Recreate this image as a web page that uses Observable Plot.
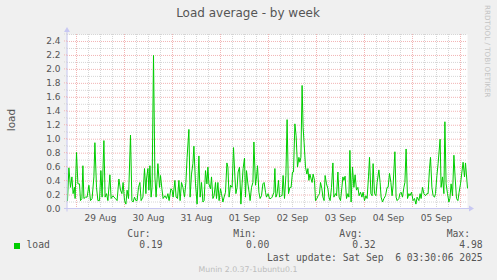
<!DOCTYPE html>
<html><head><meta charset="utf-8">
<script src="https://cdn.jsdelivr.net/npm/d3@7"></script>
<script src="https://cdn.jsdelivr.net/npm/@observablehq/plot@0.6"></script>
<style>html,body{margin:0;padding:0;background:#f0f0f0;} #chart{width:497px;height:280px;position:relative;}</style>
</head><body><div id="chart"></div>
<script>
const titleText = "Load average - by week";
const yLabel = "load";
const sideText = "RRDTOOL / TOBI OETIKER";
const footerText = "Munin 2.0.37-1ubuntu0.1";
const lastUpdate = "Last update: Sat Sep  6 03:30:06 2025";
const seriesName = "load";
const statLabels = ["Cur:", "Min:", "Avg:", "Max:"];
const statValues = ["0.19", "0.00", "0.32", "4.98"];

const startTime = Date.UTC(2025, 7, 28, 19, 30);
const endTime = Date.UTC(2025, 8, 6, 3, 30);

// hours after start, load values
const hours = [0,0.7,1.5,2.2,2.8,3.5,3.8,4.5,5.2,6,6.5,7.2,7.7,8.2,9,9.8,10.7,11.5,12.3,13.2,13.7,14.5,15.2,16,16.7,17.3,18.2,18.8,19.5,20.2,21.2,21.8,22.7,23.2,24,24.8,25.7,26.5,27.2,27.8,28.5,29.2,29.8,30.5,31.5,32.2,32.8,33.5,34.2,34.8,35.5,36.2,36.8,37.7,38.5,39.2,39.5,40.2,40.7,41.2,41.8,42.3,43,43.7,44.3,45.2,46,46.5,47.2,47.8,48.7,49.5,50.2,50.8,51.7,52.3,52.8,53.7,54.3,55,55.7,56.3,57,57.7,58.5,59.2,59.8,60.7,61.3,62,62.7,63.2,
64,64.8,65.7,66.3,67,67.7,68.3,69,69.7,70.2,70.7,71.5,72,72.7,73.3,74,74.5,75.2,75.8,76.5,77,77.7,78.3,79,79.7,80.2,80.8,81.5,82.3,83,83.7,84.2,84.8,85.3,86,86.7,87.3,87.8,88.5,89,89.5,90.2,90.8,91.3,92,92.7,93.2,94,94.5,95,95.7,96.3,97,97.7,98.3,99,99.5,100.3,101,101.7,102.3,103.2,103.7,104.2,104.8,105.5,106,106.7,107.3,107.8,108.5,109.2,109.8,110.5,111.2,111.8,112.5,113,113.7,114.3,115,115.7,116.2,116.7,117.3,117.8,118.3,119,119.7,120.2,120.7,121.2,121.8,122.3,122.8,123.5,124,124.7,125.3,126,126.5,127.2,127.7,128.3,128.8,129.5,130.2,130.7,131.3,132,
132.7,133.2,134,134.5,135.2,135.8,136.5,137.2,137.7,138.2,138.8,139.5,140.2,140.7,141.2,141.8,142.5,143.2,143.8,144.5,145.2,145.8,146.5,147.2,147.8,148.5,149.2,149.8,150.5,151,151.7,152.3,152.8,153.5,154.2,154.8,155.7,156.3,156.8,157.5,158.2,159,159.8,160.3,161,161.7,162.3,162.8,163.7,164.3,164.8,165.7,166.2,166.8,167.5,168.2,168.7,169.3,170,170.7,171.2,172,172.8,173.5,174.2,174.8,175.7,176.3,176.8,177.5,178.2,179,179.7,180.3,181,181.5,182.2,182.8,183.5,184,184.7,185.3,186.3,186.8,187.5,188.2,188.7,189.3,190,190.7,191.2,191.8,192.5,193.2,193.8,194.5,195.2,195.8,196.5,197.2,197.8,198.5,199,200];
const load = [0.12,0.59,0.31,0.46,0.22,0.31,0.15,0.81,0.36,0.36,0.12,0.15,0.62,0.15,0.17,0.17,0.34,0.12,0.15,0.46,0.95,0.31,0.12,0.12,0.55,0.17,0.98,0.17,0.22,0.12,0.49,0.15,0.19,0.17,0.15,0.12,0.43,0.27,0.22,0.38,0.12,0.07,0.27,0.15,1.06,0.12,0.10,0.17,0.12,0.12,0.31,0.38,0.12,0.17,0.58,0.22,0.43,0.58,0.27,0.62,0.17,0.31,2.2,0.46,0.17,0.65,0.31,0.48,0.29,0.15,0.19,0.15,0.22,0.12,0.29,0.27,0.17,0.41,0.17,0.15,0.41,0.12,0.38,0.31,0.17,0.38,0.74,1.14,0.17,0.5,0.65,0.9,
0.36,0.07,0.76,0.17,0.38,0.10,0.12,0.55,0.36,0.60,0.36,0.29,0.46,0.15,0.19,0.38,0.15,0.38,0.12,0.29,0.22,0.10,0.17,0.24,0.66,0.60,0.17,0.34,0.31,0.88,0.46,0.22,0.31,0.53,0.60,0.07,0.36,0.58,0.73,0.17,0.55,0.36,0.24,0.12,0.31,0.38,0.96,0.34,0.46,0.62,0.24,0.15,0.19,0.36,0.38,0.24,0.17,0.22,0.15,0.15,0.17,0.24,0.58,0.17,0.22,0.41,0.17,0.19,0.19,0.48,0.15,0.48,1.28,0.22,0.31,0.31,0.53,0.53,1.22,1.05,0.60,0.74,0.67,0.74,1.77,1.17,0.95,0.60,0.50,0.58,0.41,0.50,0.43,0.38,0.50,0.41,0.12,0.15,0.19,0.22,0.38,0.29,0.17,0.12,0.48,0.36,0.29,0.17,0.12,0.31,
0.66,0.17,0.22,0.19,0.53,0.17,0.12,0.31,0.46,0.41,0.47,0.15,0.22,0.17,0.84,0.10,0.60,0.31,0.49,0.27,0.31,0.19,0.24,0.17,0.24,0.12,0.19,0.15,0.46,0.74,0.22,0.19,0.65,0.22,0.19,0.38,0.56,0.38,0.17,0.10,0.15,0.19,0.31,0.31,0.51,0.38,0.19,0.34,0.82,0.17,0.12,0.15,0.22,0.24,0.17,0.31,0.38,0.86,0.15,0.22,0.19,0.24,0.12,0.15,0.07,0.17,0.12,0.22,0.15,0.31,0.22,0.19,0.22,0.22,0.58,0.74,0.31,0.19,0.17,0.22,0.48,0.65,1.0,0.31,0.46,0.22,1.25,0.36,0.22,0.10,0.15,0.36,0.19,0.77,0.46,0.15,0.12,0.24,0.36,0.53,0.67,0.46,0.66,0.30];

const yMajor = [0, 0.2, 0.4, 0.6, 0.8, 1.0, 1.2, 1.4, 1.6, 1.8, 2.0, 2.2, 2.4];
const yMinor = [0.1, 0.3, 0.5, 0.7, 0.9, 1.1, 1.3, 1.5, 1.7, 1.9, 2.1, 2.3, 2.5];

const data = hours.map((h, i) => ({t: new Date(startTime + h * 3600e3), v: load[i]}));
const start = new Date(startTime), end = new Date(endTime);
const midnights = d3.utcDay.range(start, end);
const sixHours = d3.utcHour.every(6).range(start, end).filter(d => d.getUTCHours() !== 0);
const noons = midnights.map(d => d3.utcHour.offset(d, 12)).filter(d => d < d3.utcHour.offset(end, -6));

const gridGray = "#d6d6d6";
const gridRed = "#f2b4b4";
const axisBlue = "#c8c8f2";
const textGray = "#555555";

const plot = Plot.plot({
  width: 497, height: 280,
  marginLeft: 67, marginRight: 30, marginTop: 34, marginBottom: 71.5,
  style: {background: "#f0f0f0", fontFamily: "DejaVu Sans", fontSize: "9px", color: textGray, overflow: "visible"},
  x: {type: "utc", domain: [start, end]},
  y: {domain: [0, 2.5]},
  marks: [
    Plot.frame({fill: "white", stroke: null}),
    Plot.ruleY(yMinor, {stroke: gridGray, strokeDasharray: "1,1"}),
    Plot.ruleX(sixHours, {stroke: gridGray, strokeDasharray: "1,1"}),
    Plot.ruleY(yMajor.slice(1), {stroke: gridRed, strokeDasharray: "1,1"}),
    Plot.ruleX(midnights, {stroke: gridRed, strokeDasharray: "1,1"}),
    Plot.axisY(yMajor, {tickSize: 0, tickPadding: 7, tickFormat: d3.format(".1f"), label: null, fill: textGray, fontSize: 9}),
    Plot.axisX(noons, {tickSize: 0, tickPadding: 6, tickFormat: d3.utcFormat("%d %b"), label: null, fill: textGray, fontSize: 9}),
    Plot.line(data, {x: "t", y: "v", stroke: "#00cc00", strokeWidth: 1})
  ]
});
document.getElementById("chart").appendChild(plot);

const svg = d3.select(plot);
const X = plot.scale("x"), Y = plot.scale("y");
const x0 = X.apply(start), x1 = X.apply(end), y0 = Y.apply(0), yTop = Y.apply(2.5);

// axis lines with arrows
svg.append("line").attr("x1", x0 - 3).attr("x2", x1 + 5).attr("y1", y0).attr("y2", y0).attr("stroke", axisBlue);
svg.append("line").attr("x1", x0).attr("x2", x0).attr("y1", y0 + 3).attr("y2", yTop - 5).attr("stroke", axisBlue);
svg.append("path").attr("d", `M${x1 + 2},${y0 - 3}L${x1 + 7},${y0}L${x1 + 2},${y0 + 3}Z`).attr("fill", axisBlue);
svg.append("path").attr("d", `M${x0 - 3},${yTop - 2}L${x0},${yTop - 7}L${x0 + 3},${yTop - 2}Z`).attr("fill", axisBlue);
// short tick extensions left of axis
yMajor.concat(yMinor).forEach(v => {
  if (v === 0) return;
  svg.append("line").attr("x1", x0 - 3).attr("x2", x0).attr("y1", Y.apply(v)).attr("y2", Y.apply(v))
    .attr("stroke", yMajor.includes(v) ? gridRed : gridGray).attr("stroke-dasharray", "1,1");
});

const txt = (x, y, s, o = {}) => svg.append("text").attr("x", x).attr("y", y).text(s)
  .attr("font-family", o.family || "DejaVu Sans").attr("font-size", o.size || 9)
  .attr("fill", o.fill || textGray).attr("text-anchor", o.anchor || "start")
  .style("white-space", "pre").attr("xml:space", "preserve");

txt(248, 17, titleText, {size: 12, anchor: "middle"});
txt(0, 0, yLabel, {size: 10.5, anchor: "middle"}).attr("transform", "translate(15,120) rotate(-90)");
txt(0, 0, sideText, {size: 7.2, fill: "#c4c4c4"}).attr("transform", "translate(485,5) rotate(90)");

const mono = "DejaVu Sans Mono";
svg.append("rect").attr("x", 14).attr("y", 243).attr("width", 6).attr("height", 6).attr("fill", "#00cc00");
txt(26.5, 248.3, seriesName, {family: mono, size: 9.7});
const labelEnds = [150.7, 256.7, 362.7, 470];
const valueEnds = [162.7, 269.3, 375.7, 482.7];
statLabels.forEach((s, i) => txt(labelEnds[i], 237, s, {family: mono, size: 9.7, anchor: "end"}));
statValues.forEach((s, i) => txt(valueEnds[i], 248.3, s, {family: mono, size: 9.7, anchor: "end"}));
txt(482.7, 260.5, lastUpdate, {family: mono, size: 9.7, anchor: "end"});
txt(248, 272.3, footerText, {size: 7.8, fill: "#bdbdbd", anchor: "middle"});
</script>
</body></html>
